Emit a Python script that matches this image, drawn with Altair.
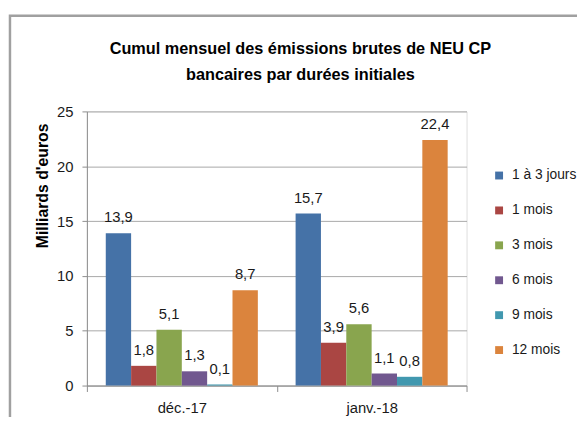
import altair as alt
import pandas as pd

categories = ["déc.-17", "janv.-18"]
series = ["1 à 3 jours", "1 mois", "3 mois", "6 mois", "9 mois", "12 mois"]
dec_values = [13.9, 1.8, 5.1, 1.3, 0.1, 8.7]
jan_values = [15.7, 3.9, 5.6, 1.1, 0.8, 22.4]
colors = ["#4572A7", "#AA4643", "#89A54E", "#71588F", "#4198AF", "#DB843D"]
y_ticks = [0, 5, 10, 15, 20, 25]
title_lines = ["Cumul mensuel des émissions brutes de NEU CP", "bancaires par durées initiales"]

rows = []
for cat, vals in zip(categories, [dec_values, jan_values]):
    for s, v in zip(series, vals):
        rows.append({"mois": cat, "duree": s, "valeur": v,
                     "label": f"{v:.1f}".replace(".", ",")})
df = pd.DataFrame(rows)

FONT = "Liberation Sans, Arial"
TXT = "#1a1a1a"
AXC = "#8c8c8c"

x_enc = alt.X("mois:N", sort=categories,
              scale=alt.Scale(paddingInner=0, paddingOuter=0),
              axis=alt.Axis(title=None, tickBand="extent", labelAngle=0,
                            labelFont=FONT, labelFontSize=15, labelColor=TXT,
                            labelPadding=9, tickSize=6, tickColor=AXC,
                            domainColor=AXC, grid=False))
xo_enc = alt.XOffset("duree:N", sort=series,
                     scale=alt.Scale(paddingOuter=0.745, paddingInner=0))
y_enc = alt.Y("valeur:Q", scale=alt.Scale(domain=[0, 25]),
              axis=alt.Axis(values=y_ticks, title="Milliards d'euros",
                            titleFont=FONT, titleFontSize=16, titleFontWeight="bold",
                            titleColor="#000", titleX=-45, titleY=75,
                            titleAlign="center", titleBaseline="middle",
                            labelFont=FONT, labelFontSize=15, labelColor=TXT,
                            labelPadding=9, tickSize=5, tickColor=AXC,
                            domainColor=AXC, gridColor="#A8A8A8"))

base = alt.Chart(df).encode(x=x_enc, xOffset=xo_enc, y=y_enc)

bars = base.mark_bar().encode(
    color=alt.Color("duree:N", sort=series,
                    scale=alt.Scale(domain=series, range=colors),
                    legend=alt.Legend(title=None, orient="none", legendX=411, legendY=58,
                                      symbolType="square", symbolSize=64,
                                      symbolStrokeWidth=0, labelFont=FONT,
                                      labelFontSize=14, labelColor=TXT,
                                      labelOffset=6, rowPadding=21.4))
)
labels = base.mark_text(baseline="alphabetic", dy=-11, font=FONT,
                        fontSize=15, color=TXT).encode(text="label:N")

frame = alt.Chart(alt.Data(values=[{"f": 1}])).mark_rect(
    fill=None, stroke="#A0A0A0", strokeWidth=2.5
).encode(x=alt.value(-78), x2=alt.value(560), y=alt.value(-97), y2=alt.value(360))

chart = alt.layer(frame, bars, labels).properties(
    width=385, height=278,
    autosize=alt.AutoSizeParams(type="none"),
    padding={"left": 80, "top": 102, "right": 112, "bottom": 29},
    title=alt.TitleParams(text=title_lines, font=FONT, fontSize=16.5, fontWeight="bold",
                          color="#000", lineHeight=26, anchor="middle", frame="group",
                          dx=24, dy=70, offset=0),
).configure_view(stroke="#A8A8A8").configure(background="white")

chart.save("out.html", embed_options={"renderer": "svg", "actions": False})
